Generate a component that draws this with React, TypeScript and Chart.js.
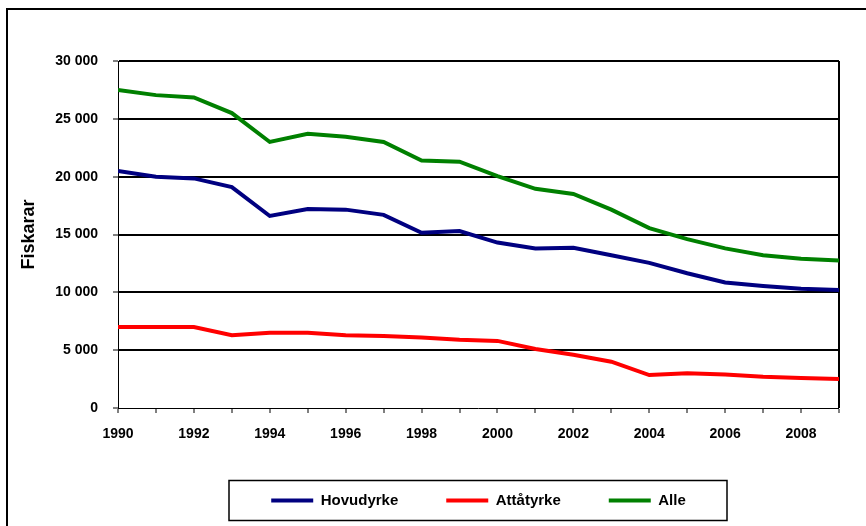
import React, { useEffect, useRef } from "react";
import { Chart, registerables } from "chart.js";

Chart.register(...registerables);

const years = [1990, 1991, 1992, 1993, 1994, 1995, 1996, 1997, 1998, 1999, 2000, 2001, 2002, 2003, 2004, 2005, 2006, 2007, 2008, 2009];
const hovudyrke = [20500, 20000, 19850, 19100, 16600, 17200, 17150, 16700, 15150, 15300, 14300, 13800, 13850, 13200, 12550, 11650, 10850, 10550, 10300, 10200];
const attatyrke = [7000, 7000, 7000, 6300, 6500, 6500, 6300, 6230, 6100, 5900, 5800, 5100, 4600, 4000, 2850, 3000, 2900, 2700, 2600, 2500];
const alle = [27500, 27050, 26850, 25500, 23000, 23700, 23450, 23000, 21400, 21300, 20050, 18950, 18500, 17150, 15550, 14600, 13800, 13200, 12900, 12750];
const seriesNames = ["Hovudyrke", "Attåtyrke", "Alle"];
const seriesColors = ["#000080", "#ff0000", "#008000"];
const yTitle = "Fiskarar";

const FONT = "Arial, 'Liberation Sans', Helvetica, sans-serif";

const framePlugin = {
  id: "frame",
  beforeDraw(chart: any) {
    const { ctx, width, height } = chart;
    ctx.save();
    ctx.fillStyle = "#ffffff";
    ctx.fillRect(0, 0, width, height);
    ctx.strokeStyle = "#000000";
    ctx.lineWidth = 2;
    ctx.beginPath();
    ctx.moveTo(7, height + 2);
    ctx.lineTo(7, 9);
    ctx.lineTo(width + 2, 9);
    ctx.stroke();
    ctx.restore();
  },
  afterDraw(chart: any) {
    const { ctx, chartArea, legend } = chart;
    if (!legend) return;
    const cx = (chartArea.left + chartArea.right) / 2;
    const cy = legend.top + 55.5;
    ctx.save();
    ctx.strokeStyle = "#000000";
    ctx.lineWidth = 1.5;
    ctx.strokeRect(cx - 249.5, cy - 20, 498, 40);
    ctx.restore();
  },
};

export default function App() {
  const ref = useRef<HTMLCanvasElement | null>(null);
  useEffect(() => {
    document.body.style.margin = "0";
    const canvas = ref.current;
    if (!canvas) return;
    const seriesValues = [hovudyrke, attatyrke, alle];
    const chart = new Chart(canvas, {
      type: "line",
      data: {
        datasets: seriesValues.map((vals, i) => ({
          label: seriesNames[i],
          data: vals.map((v, j) => ({ x: years[j], y: v })),
          borderColor: seriesColors[i],
          backgroundColor: seriesColors[i],
          borderWidth: 4,
          pointRadius: 0,
          tension: 0,
          fill: false,
        })),
      },
      options: {
        animation: false,
        responsive: false,
        layout: { padding: { left: 0, right: 27, top: 61, bottom: 8 } },
        plugins: {
          tooltip: { enabled: false },
          legend: {
            position: "bottom",
            fullSize: false,
            labels: {
              color: "#000",
              font: { family: FONT, size: 15, weight: "bold" },
              boxWidth: 42,
              boxHeight: 4,
              padding: 48,
              generateLabels: (c: any) =>
                Chart.defaults.plugins.legend.labels.generateLabels(c).map((l: any) => ({ ...l, lineWidth: 0 })),
            },
          },
        },
        scales: {
          x: {
            type: "linear",
            min: years[0],
            max: years[years.length - 1],
            afterFit: (s: any) => {
              s.height = 37;
            },
            ticks: {
              stepSize: 1,
              autoSkip: false,
              maxRotation: 0,
              padding: 13,
              color: "#000",
              font: { family: FONT, size: 14, weight: "bold" },
              callback: (v: any) => (Number(v) % 2 === 0 ? String(v) : ""),
            },
            grid: {
              color: "#000",
              lineWidth: (c: any) => (c.tick && c.tick.value === years[years.length - 1] ? 2 : 0),
              tickLength: 5,
              tickWidth: 1,
              tickColor: "#000",
            },
            border: { display: true, color: "#000", width: 1 },
          },
          y: {
            type: "linear",
            min: 0,
            max: 30000,
            afterFit: (s: any) => {
              s.width = 118;
            },
            ticks: {
              stepSize: 5000,
              padding: 15,
              color: "#000",
              font: { family: FONT, size: 14, weight: "bold" },
              callback: (v: any) => String(v).replace(/\B(?=(\d{3})+(?!\d))/g, " "),
            },
            grid: {
              color: "#000",
              lineWidth: (c: any) => (c.tick && c.tick.value === 0 ? 0 : 2),
              tickLength: 5,
              tickWidth: 1,
              tickColor: "#000",
            },
            border: { display: true, color: "#000", width: 1 },
            title: {
              display: true,
              text: yTitle,
              color: "#000",
              font: { family: FONT, size: 18, weight: "bold" },
              padding: { top: 18, bottom: 0 },
            },
          },
        },
      },
      plugins: [framePlugin],
    });
    return () => chart.destroy();
  }, []);
  return (
    <div style={{ position: "fixed", left: 0, top: 0, width: 866, height: 526 }}>
      <canvas ref={ref} width={866} height={526} />
    </div>
  );
}
